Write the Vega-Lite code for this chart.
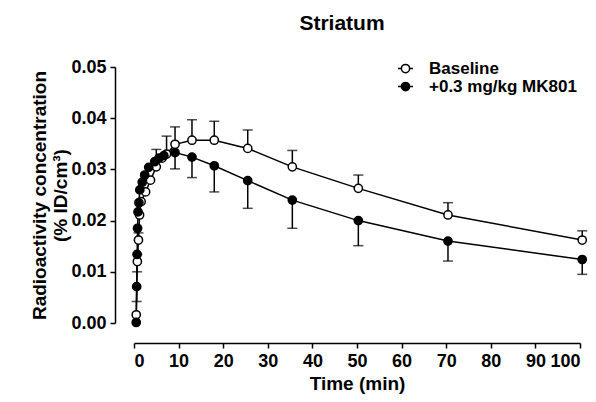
{
  "$schema": "https://vega.github.io/schema/vega-lite/v6.json",
  "width": 446,
  "height": 256,
  "autosize": {"type": "none"},
  "padding": {"left": 134, "top": 67, "right": 16, "bottom": 79},
  "background": "white",
  "title": {"text": "Striatum", "font": "Liberation Sans", "fontSize": 21, "fontWeight": "bold", "color": "black", "anchor": "middle", "dx": -15, "offset": 24},
  "config": {
    "view": {"stroke": null},
    "font": "Liberation Sans",
    "axis": {
      "grid": false, "domainColor": "black", "domainWidth": 1.5, "tickColor": "black", "tickWidth": 1.5, "tickSize": 5,
      "labelFont": "Liberation Sans", "labelFontSize": 18, "labelFontWeight": "bold", "labelColor": "black", "labelPadding": 4,
      "titleFont": "Liberation Sans", "titleFontSize": 19, "titleFontWeight": "bold", "titleColor": "black"
    }
  },
  "data": {"values": [
    {"g": "Baseline", "t": 0.5, "v": 0.0016, "ee": null},
    {"g": "Baseline", "t": 0.75, "v": 0.0120, "ee": 0.0134},
    {"g": "Baseline", "t": 1.0, "v": 0.0162, "ee": 0.0176},
    {"g": "Baseline", "t": 1.25, "v": 0.0211, "ee": null},
    {"g": "Baseline", "t": 1.6, "v": 0.0237, "ee": null},
    {"g": "Baseline", "t": 2.6, "v": 0.0256, "ee": null},
    {"g": "Baseline", "t": 3.7, "v": 0.0279, "ee": null},
    {"g": "Baseline", "t": 5.0, "v": 0.0305, "ee": 0.0339},
    {"g": "Baseline", "t": 6.3, "v": 0.0322, "ee": null},
    {"g": "Baseline", "t": 7.3, "v": 0.0330, "ee": 0.0365},
    {"g": "Baseline", "t": 9.2, "v": 0.0349, "ee": 0.0383},
    {"g": "Baseline", "t": 13.0, "v": 0.0357, "ee": 0.0397},
    {"g": "Baseline", "t": 18.0, "v": 0.0357, "ee": 0.0394},
    {"g": "Baseline", "t": 25.5, "v": 0.0341, "ee": 0.0377},
    {"g": "Baseline", "t": 35.5, "v": 0.0305, "ee": 0.0337},
    {"g": "Baseline", "t": 50.3, "v": 0.0263, "ee": 0.0289},
    {"g": "Baseline", "t": 70.4, "v": 0.0211, "ee": 0.0235},
    {"g": "Baseline", "t": 100.5, "v": 0.0162, "ee": 0.0180},
    {"g": "+0.3 mg/kg MK801", "t": 0.5, "v": 0.0001, "ee": null},
    {"g": "+0.3 mg/kg MK801", "t": 0.6, "v": 0.0071, "ee": 0.0042},
    {"g": "+0.3 mg/kg MK801", "t": 0.7, "v": 0.0134, "ee": 0.0100},
    {"g": "+0.3 mg/kg MK801", "t": 0.8, "v": 0.0185, "ee": null},
    {"g": "+0.3 mg/kg MK801", "t": 0.9, "v": 0.0217, "ee": null},
    {"g": "+0.3 mg/kg MK801", "t": 1.1, "v": 0.0235, "ee": null},
    {"g": "+0.3 mg/kg MK801", "t": 1.3, "v": 0.0260, "ee": null},
    {"g": "+0.3 mg/kg MK801", "t": 1.85, "v": 0.0275, "ee": null},
    {"g": "+0.3 mg/kg MK801", "t": 2.4, "v": 0.0289, "ee": null},
    {"g": "+0.3 mg/kg MK801", "t": 3.3, "v": 0.0304, "ee": null},
    {"g": "+0.3 mg/kg MK801", "t": 4.65, "v": 0.0315, "ee": null},
    {"g": "+0.3 mg/kg MK801", "t": 5.6, "v": 0.0322, "ee": null},
    {"g": "+0.3 mg/kg MK801", "t": 6.7, "v": 0.0327, "ee": null},
    {"g": "+0.3 mg/kg MK801", "t": 9.2, "v": 0.0333, "ee": 0.0301},
    {"g": "+0.3 mg/kg MK801", "t": 13.0, "v": 0.0324, "ee": 0.0284},
    {"g": "+0.3 mg/kg MK801", "t": 18.0, "v": 0.0307, "ee": 0.0256},
    {"g": "+0.3 mg/kg MK801", "t": 25.5, "v": 0.0278, "ee": 0.0224},
    {"g": "+0.3 mg/kg MK801", "t": 35.5, "v": 0.0240, "ee": 0.0185},
    {"g": "+0.3 mg/kg MK801", "t": 50.3, "v": 0.0200, "ee": 0.0151},
    {"g": "+0.3 mg/kg MK801", "t": 70.4, "v": 0.0160, "ee": 0.0121},
    {"g": "+0.3 mg/kg MK801", "t": 100.5, "v": 0.0124, "ee": 0.0095}
  ]},
  "encoding": {
    "x": {"field": "t", "type": "quantitative", "scale": {"domain": [0, 100], "nice": false},
          "axis": {"title": "Time (min)", "values": [0,10,20,30,40,50,60,70,80,90,100], "offset": 20, "titlePadding": 4}},
    "y": {"field": "v", "type": "quantitative", "scale": {"domain": [0, 0.05], "nice": false},
          "axis": {"title": ["Radioactivity concentration", "(% ID/cm³)"], "values": [0, 0.01, 0.02, 0.03, 0.04, 0.05], "format": ".2f", "offset": 19, "titlePadding": 0, "titleLineHeight": 21}}
  },
  "layer": [
    {
      "transform": [{"filter": "isValid(datum.ee)"}],
      "mark": {"type": "rule", "color": "black", "strokeWidth": 1.5},
      "encoding": {"y2": {"field": "ee"}, "detail": {"field": "g"}}
    },
    {
      "transform": [{"filter": "isValid(datum.ee)"}],
      "mark": {"type": "tick", "orient": "horizontal", "color": "black", "thickness": 1.5, "size": 10},
      "encoding": {"y": {"field": "ee", "type": "quantitative"}}
    },
    {
      "mark": {"type": "line", "color": "black", "strokeWidth": 1.5},
      "encoding": {"detail": {"field": "g"}, "order": {"field": "t"}}
    },
    {
      "mark": {"type": "point", "shape": "circle", "filled": true, "stroke": "black", "strokeWidth": 1.5, "size": 68, "opacity": 1},
      "encoding": {
        "fill": {"field": "g", "type": "nominal",
          "scale": {"domain": ["Baseline", "+0.3 mg/kg MK801"], "range": ["white", "black"]},
          "legend": {"title": null, "orient": "none", "legendX": 263, "legendY": -7,
            "symbolType": "M-1,0H-0.55M0.55,0H1M-0.55,0A0.55,0.55 0 1,0 0.55,0A0.55,0.55 0 1,0 -0.55,0",
            "symbolSize": 225, "symbolStrokeColor": "black", "symbolStrokeWidth": 1.5, "symbolOpacity": 1,
            "labelFont": "Liberation Sans", "labelFontSize": 17, "labelFontWeight": "bold", "labelColor": "black",
            "labelOffset": 15, "rowPadding": 0}
        }
      }
    }
  ]
}
